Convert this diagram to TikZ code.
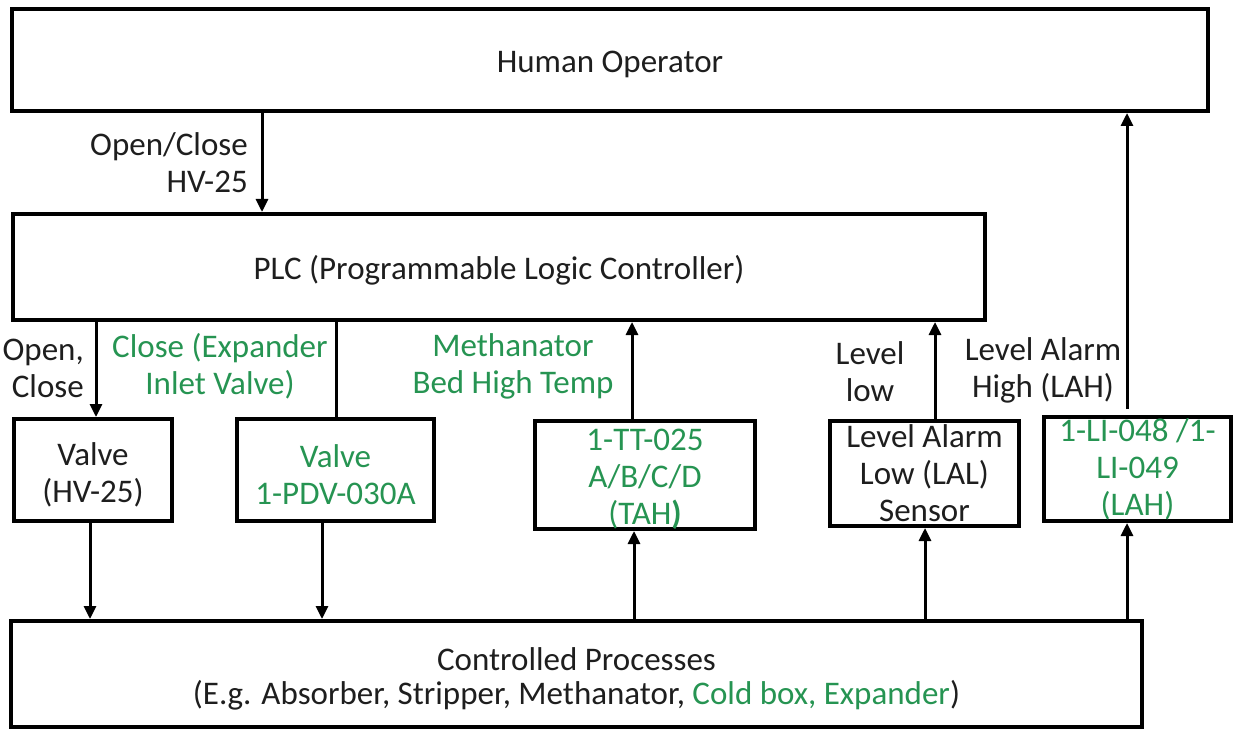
\documentclass[tikz,border=0pt]{standalone}
\usepackage{fontspec}
\setmainfont{Carlito}
\usetikzlibrary{arrows.meta}
\definecolor{ink}{RGB}{30,30,30}
\definecolor{tag}{RGB}{38,148,82}
\begin{document}
\begin{tikzpicture}[x=1pt,y=-1pt,
  every node/.style={font=\fontsize{33}{37}\selectfont, text=ink, inner sep=0pt},
  box/.style={draw=black, line width=4pt, rectangle, align=center, topgap=31pt},
  topgap/.style={execute at begin node={\rule{0pt}{#1}}},
  lbl/.style={align=center},
  link/.style={draw=black, line width=3pt},
  arr/.style={link, -{Triangle[length=13pt,width=12pt]}}]
\useasboundingbox (0,0) rectangle (1235,730);

% blocks
\node[box, minimum width=1196pt, minimum height=102pt] (hum) at (610,60) {Human Operator};
\node[box, minimum width=972pt, minimum height=106pt] (plc) at (499,267) {PLC (Programmable Logic Controller)};
\node[box, topgap=70pt, minimum width=158pt, minimum height=102pt] (v1) at (93,470) {Valve\\(HV-25)};
\node[box, topgap=70pt, minimum width=197pt, minimum height=102pt, text=tag] (v2) at (335.5,470) {Valve\\1-PDV-030A};
\node[box, topgap=103pt, minimum width=220pt, minimum height=108pt, text=tag] (tt) at (645,475) {1-TT-025\\A/B/C/D\\(TAH{\bfseries )}};
\node[box, minimum width=189pt, minimum height=105pt] (lal) at (924.5,473.5) {Level Alarm\\Low (LAL)\\Sensor};
\node[box, minimum width=187pt, minimum height=104pt, text=tag] (li) at (1137.5,469) {1-LI-048 /1-\\LI-049\\(LAH)};
\node[box, topgap=67pt, minimum width=1131pt, minimum height=106pt, font=\fontsize{33}{34}\selectfont] (cp) at (576.5,674)
  {Controlled Processes\\(E.g. Absorber, Stripper, Methanator, \textcolor{tag}{Cold box, Expander})};

% connector columns
\coordinate (c1) at (262,0);
\coordinate (c2) at (96,0);
\coordinate (c3) at (336,0);
\coordinate (c4) at (632,0);
\coordinate (c5) at (935,0);
\coordinate (c6) at (1127,0);
\coordinate (c7) at (90,0);
\coordinate (c8) at (322,0);
\coordinate (c9) at (634,0);
\coordinate (c10) at (925,0);
\coordinate (lahfoot) at (1127,409);

% signal paths
\draw[arr] (hum.south -| c1) -- (plc.north -| c1);
\draw[arr] (plc.south -| c2) -- (v1.north -| c2);
\draw[link] (plc.south -| c3) -- (v2.north -| c3);
\draw[arr] (tt.north -| c4) -- (plc.south -| c4);
\draw[arr] (lal.north -| c5) -- (plc.south -| c5);
\draw[arr] (lahfoot) -- (hum.south -| c6);
\draw[arr] (v1.south -| c7) -- (cp.north -| c7);
\draw[arr] (v2.south -| c8) -- (cp.north -| c8);
\draw[arr] (cp.north -| c9) -- (tt.south -| c9);
\draw[arr] (cp.north -| c10) -- (lal.south -| c10);
\draw[arr] (cp.north -| c6) -- (li.south -| c6);

% signal labels
\node[lbl, align=right, anchor=east] (lopen) at (248,163) {Open/Close\\HV-25};
\node[lbl, align=right, anchor=east] (lvalve) at (84,368) {Open,\\Close};
\node[lbl, text=tag] (lexp) at (220,366) {Close (Expander\\Inlet Valve)};
\node[lbl, text=tag] (lmeth) at (513,366) {Methanator\\Bed High Temp};
\node[lbl] (llow) at (870,372) {Level\\low};
\node[lbl] (lhigh) at (1043,370) {Level Alarm\\High (LAH)};
\end{tikzpicture}
\end{document}
